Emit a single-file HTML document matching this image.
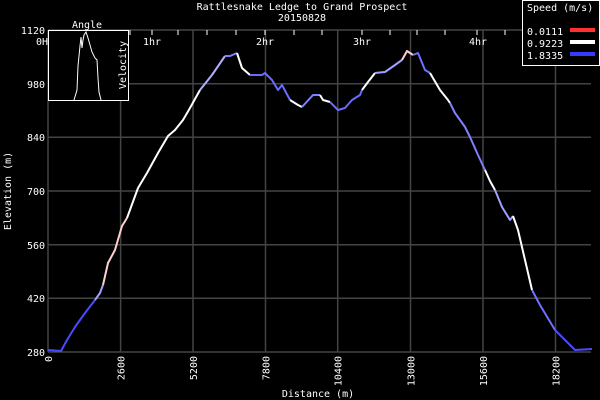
<!DOCTYPE html>
<html><head><style>
html,body{margin:0;padding:0;background:#000;}
svg{display:block;}
text{font-family:"DejaVu Sans Mono","Liberation Mono",monospace;font-size:10px;fill:#fff;}
</style></head><body>
<svg width="600" height="400" viewBox="0 0 600 400" xmlns="http://www.w3.org/2000/svg">
<rect width="600" height="400" fill="#000"/>
<g stroke="#444" stroke-width="1.5">
<line x1="48" y1="83.7" x2="591" y2="83.7"/>
<line x1="48" y1="137.3" x2="591" y2="137.3"/>
<line x1="48" y1="191" x2="591" y2="191"/>
<line x1="48" y1="244.7" x2="591" y2="244.7"/>
<line x1="48" y1="298.3" x2="591" y2="298.3"/>
<line x1="120.6" y1="30" x2="120.6" y2="352"/>
<line x1="193" y1="30" x2="193" y2="352"/>
<line x1="265.5" y1="30" x2="265.5" y2="352"/>
<line x1="337.7" y1="30" x2="337.7" y2="352"/>
<line x1="410.5" y1="30" x2="410.5" y2="352"/>
<line x1="483" y1="30" x2="483" y2="352"/>
<line x1="555.5" y1="30" x2="555.5" y2="352"/>
<line x1="48" y1="30" x2="591" y2="30"/>
<line x1="48" y1="352" x2="591" y2="352"/>
<line x1="48" y1="30" x2="48" y2="352"/>
</g>
<g stroke="#fff" stroke-width="1">
<line x1="130" y1="30" x2="130" y2="35"/><line x1="152" y1="30" x2="152" y2="35"/><line x1="178" y1="30" x2="178" y2="35"/>
<line x1="207" y1="30" x2="207" y2="35"/><line x1="236" y1="30" x2="236" y2="35"/><line x1="265" y1="30" x2="265" y2="35"/>
<line x1="294" y1="30" x2="294" y2="35"/><line x1="322" y1="30" x2="322" y2="35"/><line x1="362" y1="30" x2="362" y2="35"/>
<line x1="390" y1="30" x2="390" y2="35"/><line x1="417" y1="30" x2="417" y2="35"/><line x1="445" y1="30" x2="445" y2="35"/>
<line x1="477" y1="30" x2="477" y2="35"/><line x1="505" y1="30" x2="505" y2="35"/>
</g>
<text x="45" y="34" text-anchor="end">1120</text>
<text x="45" y="88" text-anchor="end">980</text>
<text x="45" y="141" text-anchor="end">840</text>
<text x="45" y="195" text-anchor="end">700</text>
<text x="45" y="249" text-anchor="end">560</text>
<text x="45" y="302" text-anchor="end">420</text>
<text x="45" y="356" text-anchor="end">280</text>
<text x="36" y="45">0H</text>
<text x="143" y="45">1hr</text>
<text x="256" y="45">2hr</text>
<text x="353" y="45">3hr</text>
<text x="469" y="45">4hr</text>
<g text-anchor="end">
<text transform="translate(52,356) rotate(-90)">0</text>
<text transform="translate(124.6,356) rotate(-90)">2600</text>
<text transform="translate(197,356) rotate(-90)">5200</text>
<text transform="translate(269.5,356) rotate(-90)">7800</text>
<text transform="translate(341.7,356) rotate(-90)">10400</text>
<text transform="translate(414.5,356) rotate(-90)">13000</text>
<text transform="translate(487,356) rotate(-90)">15600</text>
<text transform="translate(559.5,356) rotate(-90)">18200</text>
</g>
<text x="318" y="397" text-anchor="middle">Distance (m)</text>
<text transform="translate(11,191) rotate(-90)" text-anchor="middle">Elevation (m)</text>
<text x="302" y="10" text-anchor="middle">Rattlesnake Ledge to Grand Prospect</text>
<text x="302" y="21" text-anchor="middle">20150828</text>
<g fill="none" stroke-width="2" stroke-linejoin="round">
<polyline stroke="#4a4aff" points="48,350 61,351 67,340 75,327 85,313 95,300"/>
<polyline stroke="#a0a0ff" points="95,300 100,293 103,285"/>
<polyline stroke="#ffd0d0" points="103,285 108,263 115,250 122,226 127,218"/>
<polyline stroke="#ffffff" points="127,218 138,188 147,173 158,153 168,136 175,130 183,120 190,108 200,90"/>
<polyline stroke="#b0b0ff" points="200,90 212,75 225,56"/>
<polyline stroke="#8080ff" points="225,56 230,56 237,53"/>
<polyline stroke="#ffffff" points="237,53 242,68 250,75"/>
<polyline stroke="#6a6aff" points="250,75 255,75 262,75 265,73 272,80 278,90 282,85 290,100"/>
<polyline stroke="#ffffff" points="290,100 298,105 302,107"/>
<polyline stroke="#8080ff" points="302,107 313,95 320,95"/>
<polyline stroke="#ffffff" points="320,95 323,100 330,102"/>
<polyline stroke="#6a6aff" points="330,102 338,110 345,108 352,100 360,95 362,90"/>
<polyline stroke="#ffffff" points="362,90 368,82 375,73"/>
<polyline stroke="#a0a0ff" points="375,73 385,72 395,65 402,60"/>
<polyline stroke="#ffd0d0" points="402,60 407,51 413,55"/>
<polyline stroke="#7070ff" points="413,55 418,53 425,70 430,73"/>
<polyline stroke="#ffffff" points="430,73 440,90 448,100 450,103"/>
<polyline stroke="#8080ff" points="450,103 455,113 465,127 470,137 478,155 485,170"/>
<polyline stroke="#ffffff" points="485,170 490,181 495,190"/>
<polyline stroke="#a0a0ff" points="495,190 502,207 510,220 513,216"/>
<polyline stroke="#ffffff" points="513,216 518,230 525,260 532,290"/>
<polyline stroke="#7070ff" points="532,290 540,305 555,330"/>
<polyline stroke="#4a4aff" points="555,330 575,350 592,349"/>
</g>
<rect x="48.5" y="30.5" width="80" height="70" fill="#000" stroke="#fff" stroke-width="1"/>
<polyline fill="none" stroke="#fff" stroke-width="1" points="74,100 77,90 78,66 80,46 81,37 82,48 83,40 84,35 86,32 88,38 90,45 92,52 95,58 97,60 98,78 99,92 101,100"/>
<text x="87" y="28" text-anchor="middle">Angle</text>
<text transform="translate(126,65) rotate(-90)" text-anchor="middle">Velocity</text>
<rect x="522.5" y="0.5" width="77" height="65" fill="#000" stroke="#fff" stroke-width="1"/>
<text x="527" y="11">Speed (m/s)</text>
<text x="527" y="35">0.0111</text>
<text x="527" y="47">0.9223</text>
<text x="527" y="59">1.8335</text>
<rect x="570" y="28" width="25" height="4" fill="#ff3030"/>
<rect x="570" y="40" width="25" height="4" fill="#ffffff"/>
<rect x="570" y="52" width="25" height="4" fill="#3a3aff"/>
</svg>
</body></html>
